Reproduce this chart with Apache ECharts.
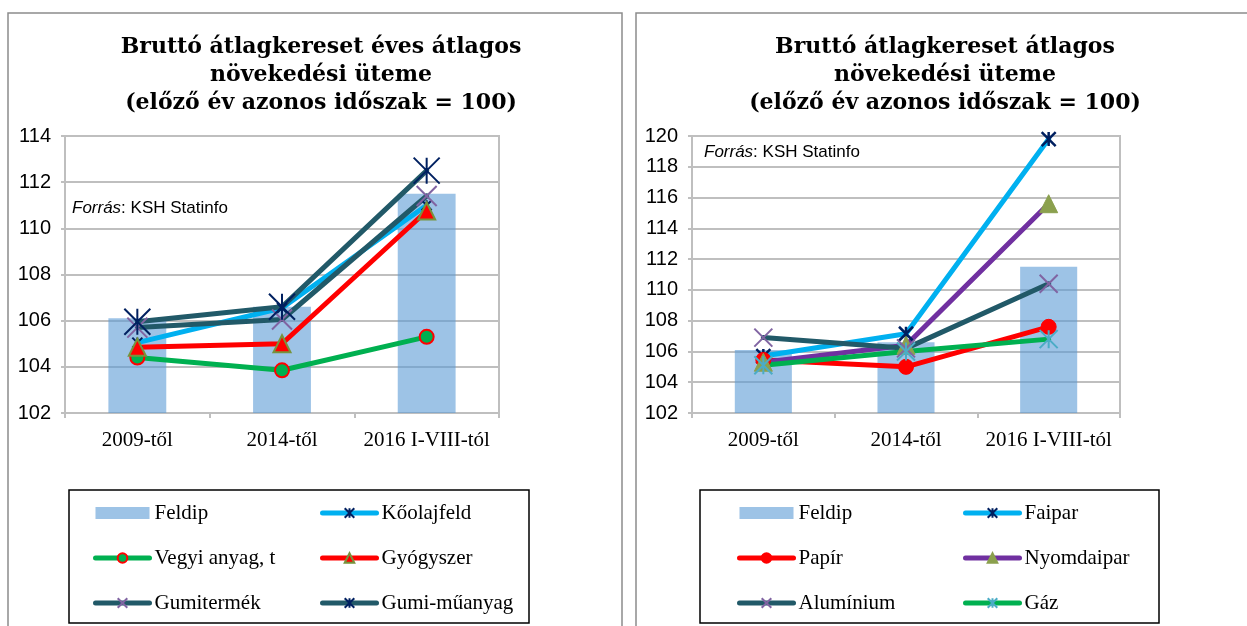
<!DOCTYPE html>
<html>
<head>
<meta charset="utf-8">
<script src="https://cdn.jsdelivr.net/npm/echarts@6/dist/echarts.min.js"></script>
<style>
html,body{margin:0;padding:0;background:#fff;}
#c{width:1247px;height:626px;}
</style>
</head>
<body>
<div id="c"></div>
<script>
// ---- data ----
const categories = ['2009-től', '2014-től', '2016 I-VIII-tól'];
const leftTicks = [102, 104, 106, 108, 110, 112, 114];
const rightTicks = [102, 104, 106, 108, 110, 112, 114, 116, 118, 120];

const feldip = [106.1, 106.6, 111.5];
// left chart
const koolajfeld = [105.05, 106.55, 111.0];
const vegyiAnyag = [104.4, 103.85, 105.3];
const gyogyszer = [104.85, 105.0, 110.75];
const gumitermek = [105.7, 106.05, 111.4];
const gumiMuanyag = [105.95, 106.6, 112.5];
// right chart
const faipar = [105.7, 107.15, 119.8];
const papir = [105.45, 105.0, 107.6];
const nyomdaipar = [105.3, 106.4, 115.6];
const aluminium = [106.9, 106.2, 110.4];
const gaz = [105.1, 106.0, 106.8];

const titleText = ['Bruttó átlagkereset éves átlagos', 'növekedési üteme', '(előző év azonos időszak = 100)'];
const titleTextR = ['Bruttó átlagkereset átlagos', 'növekedési üteme', '(előző év azonos időszak = 100)'];
const sourceText = '{i|Forrás}: KSH Statinfo';

// ---- styles ----
const STAR = 'path://M0,0L10,10M10,0L0,10M5,0L5,10';
const XMARK = 'path://M0,0L10,10M10,0L0,10';
const GRID = '#BFBFBF';
const BAR = 'rgba(91,155,213,0.6)';
const TEAL = '#215968';

function lineSeries(name, data, idx, lineColor, symbol, size, fill, border, bw) {
  return {
    type: 'line', name: name, data: data,
    xAxisIndex: idx, yAxisIndex: idx,
    symbol: symbol, symbolSize: size,
    lineStyle: {color: lineColor, width: 5, cap: 'round'},
    itemStyle: {color: fill, borderColor: border, borderWidth: bw},
    emphasis: {disabled: true},
    z: 3
  };
}
function barSeries(idx) {
  return {type: 'bar', name: 'Feldip', data: feldip, xAxisIndex: idx, yAxisIndex: idx,
    barWidth: '40%', itemStyle: {color: BAR}, z: 2};
}

function xAxis(idx) {
  return {
    type: 'category', gridIndex: idx, data: categories,
    axisLine: {lineStyle: {color: GRID, width: 2}},
    axisTick: {show: true, length: 5, lineStyle: {color: GRID, width: 2}},
    axisLabel: {color: '#000', fontFamily: 'Liberation Serif', fontSize: 21, margin: 17,
      interval: 0, hideOverlap: false}
  };
}
function yAxis(idx, ticks) {
  return {
    type: 'value', gridIndex: idx,
    min: ticks[0], max: ticks[ticks.length - 1], interval: ticks[1] - ticks[0],
    axisLine: {show: true, lineStyle: {color: GRID, width: 2}},
    axisTick: {show: true, length: 4, lineStyle: {color: GRID, width: 2}},
    splitLine: {show: true, lineStyle: {color: GRID, width: 2}},
    axisLabel: {color: '#000', fontFamily: 'Liberation Sans', fontSize: 20, margin: 14}
  };
}

function legend(left, top, names) {
  return {
    orient: 'vertical', left: left, top: top, padding: 0,
    data: names.map(n => n === 'Feldip' ? {name: n, icon: 'rect'} : n),
    itemWidth: 54, itemHeight: 12, itemGap: 23,
    selectedMode: false,
    lineStyle: {width: 5, cap: 'round'},
    textStyle: {color: '#000', fontFamily: 'Liberation Serif', fontSize: 21, lineHeight: 22}
  };
}

function titleGraphic(x, lines) {
  return {
    type: 'text', x: x, y: 33, silent: true,
    style: {text: lines.join('\n'), align: 'center', verticalAlign: 'top',
      font: 'bold 22px "DejaVu Serif"', lineHeight: 28, fill: '#000'}
  };
}
function sourceTitle(left, top) {
  return {text: sourceText, left: left, top: top, padding: 0,
    textStyle: {fontFamily: 'Liberation Sans', fontSize: 17, fontWeight: 'normal', color: '#000',
      rich: {i: {fontStyle: 'italic', fontFamily: 'Liberation Sans', fontSize: 17, color: '#000'}}}};
}

const option = {
  backgroundColor: '#fff',
  animation: false,
  title: [sourceTitle(72, 200), sourceTitle(704, 144)],
  grid: [
    {left: 65, top: 136, width: 434, height: 277, show: true, borderColor: GRID, borderWidth: 2, backgroundColor: 'transparent'},
    {left: 692, top: 136, width: 428, height: 277, show: true, borderColor: GRID, borderWidth: 2, backgroundColor: 'transparent'}
  ],
  xAxis: [xAxis(0), xAxis(1)],
  yAxis: [yAxis(0, leftTicks), yAxis(1, rightTicks)],
  legend: [
    legend(93, 502, ['Feldip', 'Vegyi anyag, t', 'Gumitermék']),
    legend(320, 502, ['Kőolajfeld', 'Gyógyszer', 'Gumi-műanyag']),
    legend(737, 502, ['Feldip', 'Papír', 'Alumínium']),
    legend(963, 502, ['Faipar', 'Nyomdaipar', 'Gáz'])
  ],
  series: [
    barSeries(0),
    lineSeries('Kőolajfeld', koolajfeld, 0, '#00B0F0', STAR, 10, '#002060', '#002060', 2),
    lineSeries('Vegyi anyag, t', vegyiAnyag, 0, '#00B050', 'circle', 14, '#00B050', '#FF0000', 2),
    lineSeries('Gyógyszer', gyogyszer, 0, '#FF0000', 'triangle', 17, '#FF0000', '#77933C', 2),
    lineSeries('Gumitermék', gumitermek, 0, TEAL, XMARK, 20, '#8064A2', '#8064A2', 2),
    lineSeries('Gumi-műanyag', gumiMuanyag, 0, TEAL, STAR, 26, '#002060', '#002060', 2),

    barSeries(1),
    lineSeries('Faipar', faipar, 1, '#00B0F0', STAR, 14, '#002060', '#002060', 2.5),
    lineSeries('Papír', papir, 1, '#FF0000', 'circle', 15, '#FF0000', '#FF0000', 1),
    lineSeries('Nyomdaipar', nyomdaipar, 1, '#7030A0', 'triangle', 18, '#8BA04E', '#8BA04E', 1),
    lineSeries('Alumínium', aluminium, 1, TEAL, XMARK, 18, '#8064A2', '#8064A2', 2),
    lineSeries('Gáz', gaz, 1, '#00B050', STAR, 18, '#4BACC6', '#4BACC6', 2)
  ],
  graphic: [
    {type: 'rect', silent: true, shape: {x: 8, y: 13, width: 614, height: 640},
      style: {fill: 'none', stroke: '#8C8C8C', lineWidth: 1.5}},
    {type: 'rect', silent: true, shape: {x: 636, y: 13, width: 640, height: 640},
      style: {fill: 'none', stroke: '#8C8C8C', lineWidth: 1.5}},
    {type: 'rect', silent: true, shape: {x: 69, y: 490, width: 460, height: 133},
      style: {fill: 'none', stroke: '#000', lineWidth: 1.5}},
    {type: 'rect', silent: true, shape: {x: 700, y: 490, width: 459, height: 133},
      style: {fill: 'none', stroke: '#000', lineWidth: 1.5}},
    titleGraphic(321, titleText),
    titleGraphic(945, titleTextR)
  ]
};

const chart = echarts.init(document.getElementById('c'), null, {renderer: 'canvas'});
chart.setOption(option);
</script>
</body>
</html>
